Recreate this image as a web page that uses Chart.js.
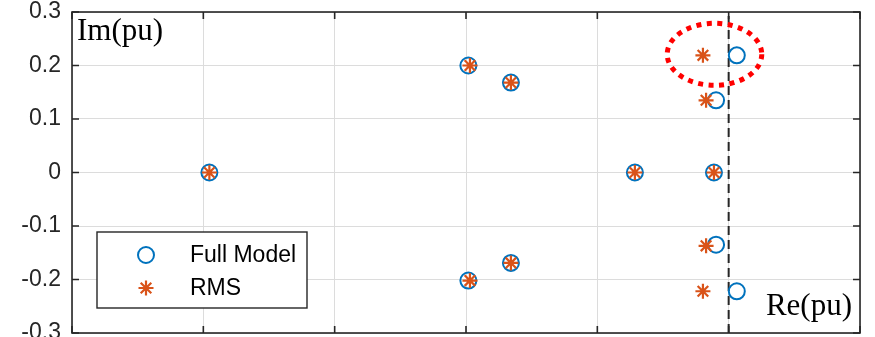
<!DOCTYPE html>
<html>
<head>
<meta charset="utf-8">
<script src="https://cdn.jsdelivr.net/npm/chart.js@4.4.1/dist/chart.umd.min.js"></script>
<style>
  html, body { margin: 0; padding: 0; background: #ffffff; overflow: hidden; }
  #wrap { width: 875px; height: 337px; overflow: hidden; }
  #c { display: block; }
</style>
</head>
<body>
<div id="wrap"><canvas id="c" width="875" height="343"></canvas></div>
<script>
// Eigenvalues of the full model and the RMS model (real and imaginary parts, pu)
const fullRe = [-1.977, -0.991, -0.829, -0.991, -0.829, -0.357, -0.056, -0.048, -0.048, 0.031, 0.031];
const fullIm = [0, 0.200, 0.168, -0.202, -0.169, 0, 0, 0.135, -0.135, 0.219, -0.222];
const rmsRe = [-1.977, -0.985, -0.829, -0.985, -0.829, -0.357, -0.056, -0.086, -0.086, -0.098, -0.098];
const rmsIm = [0, 0.200, 0.168, -0.202, -0.169, 0, 0, 0.135, -0.137, 0.219, -0.222];

// Axis ranges and ticks
const xRange = [-2.5, 0.5];
const xTicks = [-2.5, -2, -1.5, -1, -0.5, 0, 0.5];
const yRange = [-0.3, 0.3];
const yTicks = [-0.3, -0.2, -0.1, 0, 0.1, 0.2, 0.3];
const yTickLabels = ['-0.3', '-0.2', '-0.1', '0', '0.1', '0.2', '0.3'];

// Stability boundary (Re = 0)
const boundaryRe = [0, 0];
const boundaryIm = [-0.3, 0.3];

// Highlighted pair of modes: centre and half-widths of the ellipse (data units)
const highlightCentre = [-0.054, 0.221];
const highlightRadii = [0.18, 0.058];

const seriesNames = ['Full Model', 'RMS'];
const axisNames = ['Re(pu)', 'Im(pu)'];

const BLUE = '#0072BD';
const ORANGE = '#D95319';
const AXIS = '#262626';

const toPoints = (xs, ys) => xs.map((x, i) => ({ x: x, y: ys[i] }));

Chart.defaults.font.family = '"Liberation Sans", Arial, Helvetica, sans-serif';
Chart.defaults.font.size = 23;
Chart.defaults.color = AXIS;

// Box, inward ticks, highlight ellipse, legend and axis names
const decorations = {
  id: 'decorations',
  beforeDatasetsDraw(chart) {
    const { ctx, chartArea: a, scales } = chart;
    ctx.save();
    ctx.strokeStyle = AXIS;
    ctx.lineWidth = 1.6;
    ctx.strokeRect(a.left, a.top, a.right - a.left, a.bottom - a.top);
    const tl = 7;
    ctx.beginPath();
    scales.x.ticks.forEach(t => {
      const px = scales.x.getPixelForValue(t.value);
      ctx.moveTo(px, a.top); ctx.lineTo(px, a.top + tl);
      ctx.moveTo(px, a.bottom); ctx.lineTo(px, a.bottom - tl);
    });
    scales.y.ticks.forEach(t => {
      const py = scales.y.getPixelForValue(t.value);
      ctx.moveTo(a.left, py); ctx.lineTo(a.left + tl, py);
      ctx.moveTo(a.right, py); ctx.lineTo(a.right - tl, py);
    });
    ctx.stroke();
    ctx.restore();
  },
  afterDatasetsDraw(chart) {
    const { ctx, scales } = chart;
    const cx = scales.x.getPixelForValue(highlightCentre[0]);
    const cy = scales.y.getPixelForValue(highlightCentre[1]);
    const rx = Math.abs(scales.x.getPixelForValue(highlightCentre[0] + highlightRadii[0]) - cx);
    const ry = Math.abs(scales.y.getPixelForValue(highlightCentre[1] + highlightRadii[1]) - cy);
    ctx.save();
    ctx.strokeStyle = '#FF0000';
    ctx.lineWidth = 5;
    ctx.setLineDash([5, 5.5]);
    ctx.beginPath();
    ctx.ellipse(cx, cy, rx, ry, 0, 0, Math.PI * 2);
    ctx.stroke();
    ctx.restore();
  },
  afterDraw(chart) {
    const { ctx, chartArea: a } = chart;
    ctx.save();
    // legend
    const lx = 97, ly = 232, lw = 210, lh = 76;
    ctx.fillStyle = '#ffffff';
    ctx.fillRect(lx, ly, lw, lh);
    ctx.strokeStyle = AXIS;
    ctx.lineWidth = 1.4;
    ctx.strokeRect(lx, ly, lw, lh);
    const rows = [255, 288];
    chart.data.datasets.slice(0, 2).forEach((ds, i) => {
      ctx.strokeStyle = ds.pointBorderColor;
      ctx.fillStyle = 'rgba(0,0,0,0)';
      ctx.lineWidth = ds.pointBorderWidth;
      Chart.helpers.drawPoint(ctx, {
        pointStyle: ds.pointStyle,
        radius: ds.pointRadius,
        borderWidth: ds.pointBorderWidth,
        rotation: 0
      }, 146, rows[i]);
    });
    ctx.fillStyle = '#000000';
    ctx.font = '23px "Liberation Sans", Arial, sans-serif';
    ctx.textBaseline = 'middle';
    ctx.textAlign = 'left';
    chart.data.datasets.slice(0, 2).forEach((ds, i) => {
      ctx.fillText(ds.label, 190, rows[i] + 1);
    });
    // axis names, placed inside the axes box
    ctx.font = '31px "Liberation Serif", "Times New Roman", serif';
    ctx.textBaseline = 'alphabetic';
    ctx.textAlign = 'left';
    ctx.fillText(axisNames[1], a.left + 5, a.top + 28);
    ctx.textAlign = 'right';
    ctx.fillText(axisNames[0], a.right - 8, a.bottom - 18);
    ctx.restore();
  }
};

new Chart(document.getElementById('c'), {
  type: 'scatter',
  data: {
    datasets: [
      {
        label: seriesNames[0],
        data: toPoints(fullRe, fullIm),
        pointStyle: 'circle',
        pointRadius: 8,
        pointHoverRadius: 8,
        pointBorderWidth: 2,
        borderColor: BLUE,
        pointBorderColor: BLUE,
        backgroundColor: 'rgba(0,0,0,0)',
        pointBackgroundColor: 'rgba(0,0,0,0)',
        order: 1
      },
      {
        label: seriesNames[1],
        data: toPoints(rmsRe, rmsIm),
        pointStyle: 'star',
        pointRadius: 7.5,
        pointHoverRadius: 7.5,
        pointBorderWidth: 2.2,
        borderColor: ORANGE,
        pointBorderColor: ORANGE,
        backgroundColor: 'rgba(0,0,0,0)',
        pointBackgroundColor: 'rgba(0,0,0,0)',
        order: 0
      },
      {
        label: 'Re = 0',
        data: toPoints(boundaryRe, boundaryIm),
        showLine: true,
        borderColor: AXIS,
        borderWidth: 2,
        borderDash: [9, 5],
        pointRadius: 0,
        pointHoverRadius: 0,
        order: 2
      }
    ]
  },
  options: {
    responsive: false,
    animation: false,
    events: [],
    layout: { padding: { top: 12, right: 15, bottom: 0, left: 0 } },
    plugins: {
      legend: { display: false },
      tooltip: { enabled: false }
    },
    scales: {
      x: {
        type: 'linear',
        min: xRange[0],
        max: xRange[1],
        afterBuildTicks: s => { s.ticks = xTicks.map(v => ({ value: v })); },
        afterFit: s => { s.height = 5; s.paddingLeft = 0; s.paddingRight = 0; },
        ticks: { display: false },
        border: { display: false },
        grid: { color: '#dcdcdc', lineWidth: 1, drawTicks: false }
      },
      y: {
        type: 'linear',
        min: yRange[0],
        max: yRange[1],
        afterBuildTicks: s => { s.ticks = yTicks.map(v => ({ value: v })); },
        afterFit: s => { s.width = 72; s.paddingTop = 0; s.paddingBottom = 0; },
        ticks: {
          padding: 11,
          color: AXIS,
          callback: (v, i) => yTickLabels[i]
        },
        border: { display: false },
        grid: { color: '#dcdcdc', lineWidth: 1, drawTicks: false }
      }
    }
  },
  plugins: [decorations]
});
</script>
</body>
</html>
